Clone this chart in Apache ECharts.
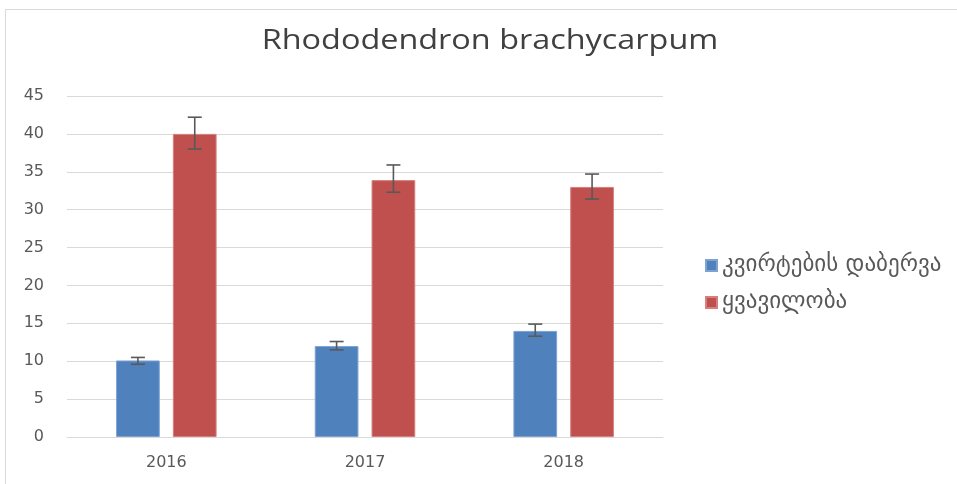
<!DOCTYPE html>
<html><head><meta charset="utf-8">
<script src="https://cdn.jsdelivr.net/npm/echarts@6/dist/echarts.min.js"></script>
<style>html,body{margin:0;padding:0;background:#fff}#c{width:957px;height:484px}</style>
</head><body><div id="c"></div>
<script>
var chartTitle = 'Rhododendron brachycarpum';
var categories = ['2016', '2017', '2018'];
var seriesNames = ['კვირტების დაბერვა', 'ყვავილობა'];
var budValues = [10.1, 12.0, 14.0];
var budErrLow = [9.6, 11.5, 13.3];
var budErrHigh = [10.5, 12.6, 14.9];
var bloomValues = [40.0, 33.9, 33.0];
var bloomErrLow = [38.0, 32.3, 31.4];
var bloomErrHigh = [42.2, 35.9, 34.7];
var yTicks = [0, 5, 10, 15, 20, 25, 30, 35, 40, 45];

var chart = echarts.init(document.getElementById('c'));
function errSeries(low, high, offsetFrac) {
  return {
    type: 'custom',
    z: 10,
    silent: true,
    data: categories.map(function (c, i) { return [i, low[i], high[i]]; }),
    renderItem: function (params, api) {
      var idx = api.value(0);
      var lo = api.coord([idx, api.value(1)]);
      var hi = api.coord([idx, api.value(2)]);
      var band = api.size([1, 0])[0];
      var x = lo[0] + band * offsetFrac;
      var cap = 7;
      var st = { stroke: '#595959', lineWidth: 1.6 };
      return {
        type: 'group',
        children: [
          { type: 'line', shape: { x1: x, y1: hi[1], x2: x, y2: lo[1] }, style: st },
          { type: 'line', shape: { x1: x - cap, y1: hi[1], x2: x + cap, y2: hi[1] }, style: st },
          { type: 'line', shape: { x1: x - cap, y1: lo[1], x2: x + cap, y2: lo[1] }, style: st }
        ]
      };
    }
  };
}
chart.setOption({
  animation: false,
  graphic: [
    { type: 'line', shape: { x1: 5, y1: 9.5, x2: 957, y2: 9.5 }, style: { stroke: '#d9d9d9', lineWidth: 1 } },
    { type: 'line', shape: { x1: 5.5, y1: 9, x2: 5.5, y2: 484 }, style: { stroke: '#d9d9d9', lineWidth: 1 } },
    { type: 'text', x: 490, y: 41, scaleX: 1.2, originX: 0, originY: 0,
      style: { text: chartTitle, fontFamily: 'Open Sans', fontSize: 27, fill: '#404040',
               align: 'center', verticalAlign: 'middle' } }
  ],
  legend: {
    orient: 'vertical', left: 700, top: 249,
    itemWidth: 11, itemHeight: 11, itemGap: 14,
    icon: 'rect',
    data: seriesNames,
    textStyle: { fontFamily: 'DejaVu Sans', fontSize: 23, color: '#595959' }
  },
  grid: { left: 67, right: 294, top: 96, bottom: 47, containLabel: false },
  xAxis: {
    type: 'category', data: categories,
    axisLine: { lineStyle: { color: '#d9d9d9', width: 1 } },
    axisTick: { show: false },
    axisLabel: { color: '#595959', fontSize: 16, fontFamily: 'DejaVu Sans', margin: 18 }
  },
  yAxis: {
    type: 'value', min: 0, max: 45, interval: 5,
    axisLine: { show: false }, axisTick: { show: false },
    splitLine: { lineStyle: { color: '#d9d9d9', width: 1 } },
    axisLabel: {
      color: '#595959', fontSize: 16, fontFamily: 'DejaVu Sans', margin: 23,
      padding: [3, 0, 0, 0],
      formatter: function (v) { return yTicks.indexOf(v) >= 0 ? String(v) : ''; }
    }
  },
  series: [
    { name: seriesNames[0], type: 'bar', data: budValues, barWidth: '22%', barGap: '30%',
      itemStyle: { color: '#4f81bd', borderColor: '#7ea3d3', borderWidth: 1 } },
    { name: seriesNames[1], type: 'bar', data: bloomValues, barWidth: '22%', barGap: '30%',
      itemStyle: { color: '#c0504d', borderColor: '#d77f7d', borderWidth: 1 } },
    errSeries(budErrLow, budErrHigh, -0.143),
    errSeries(bloomErrLow, bloomErrHigh, 0.143)
  ]
});
</script></body></html>
